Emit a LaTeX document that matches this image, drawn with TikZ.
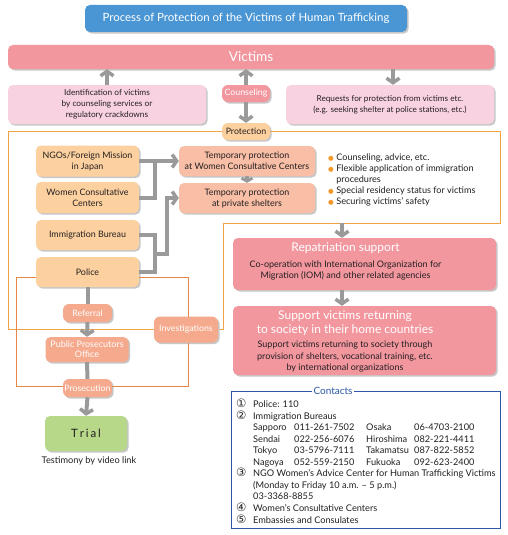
\documentclass[tikz,border=0pt]{standalone}
\usepackage{fontspec}
\setmainfont{Lato}
\newfontfamily\symfont{DejaVu Sans}
\usetikzlibrary{arrows.meta,shadows}
\definecolor{cblue}{HTML}{4A96D4}
\definecolor{cpink}{HTML}{F3979F}
\definecolor{clpink}{HTML}{F9D2E2}
\definecolor{corg}{HTML}{FDD19F}
\definecolor{csalm}{HTML}{F8BEA6}
\definecolor{cpill}{HTML}{F5A98D}
\definecolor{cframe}{HTML}{F4A246}
\definecolor{cframetwo}{HTML}{E6874A}
\definecolor{cgray}{HTML}{9A9A9A}
\definecolor{cgreen}{HTML}{B7D889}
\definecolor{ccont}{HTML}{2B57A8}
\definecolor{ctext}{HTML}{231F20}
\definecolor{cbullet}{HTML}{F39A2C}
\tikzset{
  bx/.style={rounded corners=5pt, align=center, inner sep=1pt, text=ctext,
    drop shadow={shadow xshift=1.6pt,shadow yshift=-1.6pt,fill=black!22,opacity=1}},
  pill/.style={bx, rounded corners=6pt, fill=cpill, text=white, font=\fontsize{8.8}{10}\selectfont},
  obox/.style={bx, fill=corg, minimum width=103pt, font=\fontsize{8.9}{11}\selectfont},
  sbox/.style={bx, fill=csalm, minimum width=136pt, minimum height=30pt, font=\fontsize{8.9}{11}\selectfont},
  gline/.style={draw=cgray, line width=4pt},
  garrow/.style={gline, -{Straight Barb[length=4.5pt,width=13pt,line width=3.5pt]}},
  frameone/.style={draw=cframe, line width=0.9pt},
  frametwo/.style={draw=cframetwo, line width=0.6pt},
  circnum/.style={},
}
\newcommand{\cnum}[1]{{\symfont\fontsize{11.5}{11}\selectfont #1}}
\begin{document}
\begin{tikzpicture}[x=1pt,y=-1pt]
\useasboundingbox (0,0) rectangle (507,535);
\fill[white] (0,0) rectangle (507,535);

% title
\node[bx, fill=cblue, text=white, minimum width=322pt, minimum height=27pt,
  font=\fontsize{11.4}{13}\selectfont] (title) at (246,18.5)
  {Process of Protection of the Victims of Human Trafficking};

% victims
\node[bx, fill=cpink, text=white, minimum width=486pt, minimum height=24pt,
  font=\fontsize{13.6}{15}\selectfont] (victims) at (251,57) {Victims};

\node[bx, fill=clpink, minimum width=198pt, minimum height=39pt,
  font=\fontsize{8.3}{11}\selectfont] (idbox) at (107,104.5)
  {Identification of victims\\by counseling services or\\regulatory crackdowns};
\node[bx, fill=clpink, minimum width=208pt, minimum height=39pt,
  font=\fontsize{8.2}{10.5}\selectfont] (reqbox) at (390,104.5)
  {Requests for protection from victims etc.\\(e.g. seeking shelter at police stations, etc.)};

\node[pill, fill=cpink, minimum width=48pt, minimum height=17pt] (couns) at (246,93.5) {Counseling};
\node[pill, fill=corg, text=ctext, minimum width=48pt, minimum height=17pt] (prot) at (246,131.5) {Protection};

\draw[garrow] (idbox.north) -- (idbox.north |- victims.south);
\draw[garrow] (couns.north) -- (couns.north |- victims.south);
\draw[garrow] (couns.south) -- (prot.north);
\coordinate (rq) at (393,69);
\draw[garrow] (rq) -- (rq |- reqbox.north);

% main protection frame
\draw[frameone] (prot.west) -- (8,131.5) -- (8,329) -- (223,329) -- (223,223) -- (500,223) -- (500,131.5) -- (prot.east);

% left column
\node[obox, minimum height=31pt] (ngo) at (87.5,161) {NGOs/Foreign Mission\\in Japan};
\node[obox, minimum height=31pt] (wcc) at (87.5,197.5) {Women Consultative\\Centers};
\node[obox, minimum height=30pt] (imm) at (87.5,235) {Immigration Bureau};
\node[obox, minimum height=30pt] (police) at (87.5,272) {Police};

\node[sbox] (temp1) at (247,161) {Temporary protection\\at Women Consultative Centers};
\node[sbox] (temp2) at (247,198) {Temporary protection\\at private shelters};
\draw[garrow, -{Straight Barb[length=3pt,width=11pt,line width=3pt]}] (temp1.south) -- (temp2.north);

\coordinate (j1) at (155,161);
\draw[gline] (ngo.east) -- (j1);
\draw[gline] (wcc.east) -| (j1);
\draw[garrow] (j1) -- (temp1.west);
\coordinate (j2) at (155,253.5);
\draw[gline] (imm.east) -| (j2) |- (police.east);
\draw[garrow] (j2) -- (167,253.5) |- (temp2.west);

% bullets
\node[anchor=base west, inner sep=0pt, text=ctext, font=\fontsize{9.1}{11}\selectfont, align=left] (bullets) at (328,160.5)
{\begin{tabular}[t]{@{}l@{\hspace{2.5pt}}l@{}}
\textcolor{cbullet}{\symfont\fontsize{6.5}{6}\selectfont ●} & Counseling, advice, etc.\\
\textcolor{cbullet}{\symfont\fontsize{6.5}{6}\selectfont ●} & Flexible application of immigration\\
 & procedures\\
\textcolor{cbullet}{\symfont\fontsize{6.5}{6}\selectfont ●} & Special residency status for victims\\
\textcolor{cbullet}{\symfont\fontsize{6.5}{6}\selectfont ●} & Securing victims' safety
\end{tabular}};

% repatriation
\node[bx, fill=cpink, minimum width=263pt, minimum height=52pt] (repat) at (364.5,264) {};
\node[text=white, font=\fontsize{12}{13}\selectfont, inner sep=0pt] (repatT) at (345.5,248) {Repatriation support};
\node[text=ctext, font=\fontsize{9}{11}\selectfont, align=center, inner sep=0pt] (repatS) at (345.5,270.5)
  {Co-operation with International Organization for\\Migration (IOM) and other related agencies};
\node[bx, fill=cpink, minimum width=263pt, minimum height=69pt] (support) at (364.5,340.5) {};
\node[text=white, font=\fontsize{12}{14}\selectfont, align=center, inner sep=0pt] (supT) at (345,323)
  {Support victims returning\\to society in their home countries};
\node[text=ctext, font=\fontsize{9}{11.5}\selectfont, align=center, inner sep=0pt] (supS) at (345,357)
  {Support victims returning to society through\\provision of shelters, vocational training, etc.\\by international organizations};
\coordinate (f1) at (342,223);
\draw[garrow] (f1) -- (f1 |- repat.north);
\draw[garrow] (repat.south -| f1) -- (support.north -| f1);

% prosecution chain
\node[pill, minimum width=49pt, minimum height=18pt] (referral) at (87.5,313) {Referral};
\node[pill, rounded corners=5pt, minimum width=83pt, minimum height=25pt, align=center,
  font=\fontsize{9}{10}\selectfont] (ppo) at (87,349.5) {Public Prosecutors\\Office};
\node[pill, minimum width=64pt, minimum height=26pt] (inv) at (186,329.5) {Investigations};
\node[pill, minimum width=49pt, minimum height=18pt] (pros) at (87.5,388) {Prosecution};
\node[bx, fill=cgreen, minimum width=82pt, minimum height=35pt,
  font=\fontsize{11.5}{13}\selectfont] (trial) at (86,433.5) {T\,r\,i\,a\,l};
\node[text=ctext, font=\fontsize{9.2}{10}\selectfont, inner sep=0pt] (testim) at (89,461) {Testimony by video link};

\draw[gline] (police.south) -- (referral.north);
\draw[garrow] (referral.south) -- (ppo.north);
\draw[gline] (ppo.south) -- (pros.north);
\draw[garrow] (pros.south) -- (trial.north);

% investigation frame
\draw[frametwo] ([yshift=-5pt]police.west) -- (16,277) -- (16,386) -- (pros.west |- 0,386);
\draw[frametwo] ([yshift=-5pt]police.east) -- (188,277) -- (188,316.5);
\draw[frametwo] (188,342.5) -- (188,386) -- (pros.east |- 0,386);

% contacts
\node[draw=ccont, line width=0.8pt, minimum width=269pt, minimum height=137pt, inner sep=0pt] (cbox) at (365.5,459.5) {};
\node[fill=white, text=ccont, font=\fontsize{10}{11}\selectfont, inner sep=1.5pt] (clabel) at (333,391) {Contacts};
\node[anchor=base west, inner sep=0pt, text=ctext, font=\fontsize{9.2}{11.4}\selectfont] (contacts) at (236,407.5)
{\setlength{\tabcolsep}{0pt}\begin{tabular}[t]{@{}p{17pt}p{41pt}p{72pt}p{48pt}l@{}}
\cnum{①} & \multicolumn{4}{l}{Police: 110}\\
\cnum{②} & \multicolumn{4}{l}{Immigration Bureaus}\\
 & Sapporo & 011-261-7502 & Osaka & 06-4703-2100\\
 & Sendai & 022-256-6076 & Hiroshima & 082-221-4411\\
 & Tokyo & 03-5796-7111 & Takamatsu & 087-822-5852\\
 & Nagoya & 052-559-2150 & Fukuoka & 092-623-2400\\
\cnum{③} & \multicolumn{4}{l}{NGO Women's Advice Center for Human Trafficking Victims}\\
 & \multicolumn{4}{l}{(Monday to Friday 10 a.m. -- 5 p.m.)}\\
 & \multicolumn{4}{l}{03-3368-8855}\\
\cnum{④} & \multicolumn{4}{l}{Women's Consultative Centers}\\
\cnum{⑤} & \multicolumn{4}{l}{Embassies and Consulates}
\end{tabular}};
\end{tikzpicture}
\end{document}
